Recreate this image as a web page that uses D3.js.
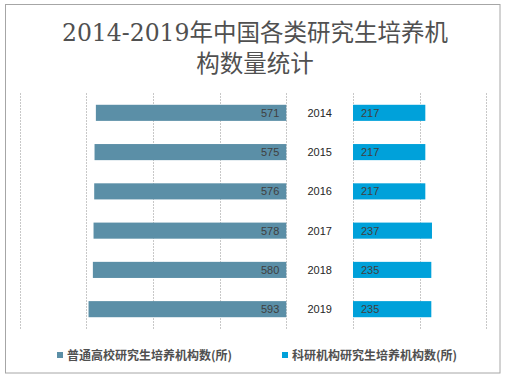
<!DOCTYPE html>
<html><head><meta charset="utf-8">
<script src="https://cdn.jsdelivr.net/npm/d3@7"></script>
<style>body{margin:0;background:#fff}svg{display:block}</style>
</head><body>
<script>
const years = ["2014","2015","2016","2017","2018","2019"];
const universities = [571,575,576,578,580,593];
const institutes = [217,217,217,237,235,235];
const leftTicks = [0,200,400,600,800];
const rightTicks = [0,200,400];
const seriesNames = ["普通高校研究生培养机构数(所)","科研机构研究生培养机构数(所)"];
const titleLines = ["2014-2019年中国各类研究生培养机","构数量统计"];
const colors = ["#5B8FA7","#00A1DA"];

(function(){
const W=505,H=378;
const svg=d3.select("body").append("svg").attr("width",W).attr("height",H);
svg.append("rect").attr("x",5.5).attr("y",4.5).attr("width",494.5).attr("height",368.5)
  .attr("fill","#fff").attr("stroke","#a6a6a6").attr("stroke-width",1);

svg.selectAll("text.title").data(titleLines).enter().append("text")
  .attr("x",255).attr("y",(d,i)=>41+i*31).attr("text-anchor","middle")
  .attr("font-family","'DejaVu Serif','Noto Sans CJK SC',serif").attr("font-size",23.5)
  .attr("fill","#505050").text(d=>d);

const plotTop=93,plotBottom=329;
const xL=d3.scaleLinear().domain([0,800]).range([286.3,19.5]);
const xR=d3.scaleLinear().domain([0,400]).range([353,486.3]);
const y=d3.scaleBand().domain(years).range([plotTop,plotBottom]).paddingInner(0.59).paddingOuter(0.3);

const grid=svg.append("g").attr("stroke","#c8c8c8").attr("stroke-width",1).attr("stroke-dasharray","2,1");
grid.selectAll("line.l").data(leftTicks).enter().append("line")
  .attr("x1",d=>Math.round(xL(d))+0.5).attr("x2",d=>Math.round(xL(d))+0.5).attr("y1",plotTop).attr("y2",plotBottom);
grid.selectAll("line.r").data(rightTicks).enter().append("line")
  .attr("x1",d=>Math.round(xR(d))+0.5).attr("x2",d=>Math.round(xR(d))+0.5).attr("y1",plotTop).attr("y2",plotBottom);

svg.selectAll("rect.lb").data(universities).enter().append("rect")
  .attr("x",d=>xL(d)).attr("width",d=>xL(0)-xL(d))
  .attr("y",(d,i)=>y(years[i])).attr("height",y.bandwidth()).attr("fill",colors[0]);
svg.selectAll("rect.rb").data(institutes).enter().append("rect")
  .attr("x",xR(0)).attr("width",d=>xR(d)-xR(0))
  .attr("y",(d,i)=>y(years[i])).attr("height",y.bandwidth()).attr("fill",colors[1]);

const lf="'Liberation Sans','DejaVu Sans',sans-serif";
svg.selectAll("text.lv").data(universities).enter().append("text")
  .attr("x",xL(0)-7).attr("y",(d,i)=>y(years[i])+y.bandwidth()/2+4)
  .attr("text-anchor","end").attr("font-family",lf).attr("font-size",11).attr("fill","#404040").text(d=>d);
svg.selectAll("text.rv").data(institutes).enter().append("text")
  .attr("x",xR(0)+8).attr("y",(d,i)=>y(years[i])+y.bandwidth()/2+4)
  .attr("font-family",lf).attr("font-size",11).attr("fill","#404040").text(d=>d);
svg.selectAll("text.yr").data(years).enter().append("text")
  .attr("x",(xL(0)+xR(0))/2).attr("y",d=>y(d)+y.bandwidth()/2+4)
  .attr("text-anchor","middle").attr("font-family",lf).attr("font-size",11).attr("fill","#262626").text(d=>d);

const leg=[{x:57,t:seriesNames[0],c:colors[0]},{x:282,t:seriesNames[1],c:colors[1]}];
const lg=svg.selectAll("g.leg").data(leg).enter().append("g");
lg.append("rect").attr("x",d=>d.x).attr("y",352).attr("width",6).attr("height",6).attr("fill",d=>d.c);
lg.append("text").attr("x",d=>d.x+10).attr("y",359.5).attr("font-family","'Noto Sans CJK SC',sans-serif")
  .attr("font-size",12).attr("font-weight","bold").attr("fill","#505050").text(d=>d.t);
})();
</script>
</body></html>
